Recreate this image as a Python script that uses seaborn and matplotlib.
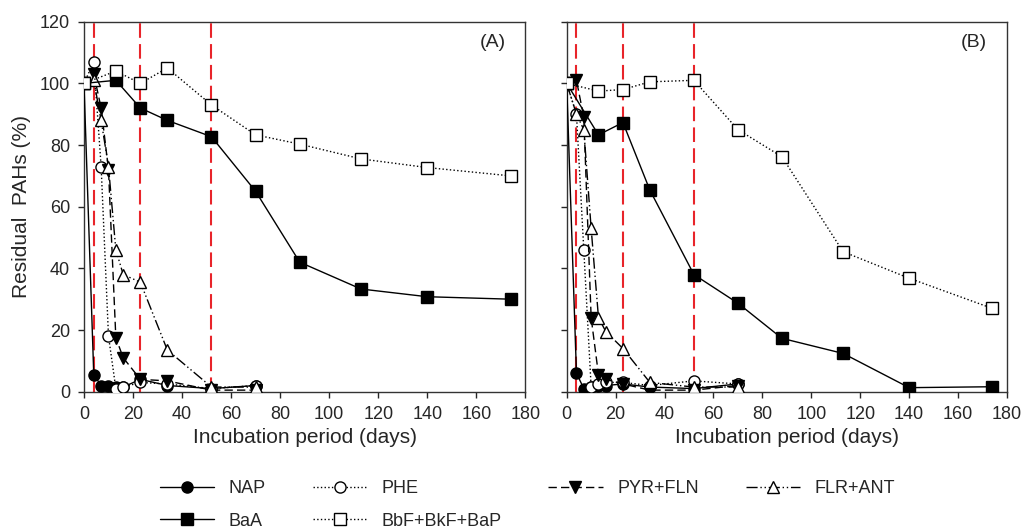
import numpy as np
import pandas as pd
import matplotlib
matplotlib.use("Agg")
import matplotlib.pyplot as plt
import seaborn as sns

# sampling days
days_short = [0, 4, 7, 10, 13, 16, 23, 34, 52, 70]
days_long = [0, 13, 23, 34, 52, 70, 88, 113, 140, 174]
red_days = [4, 23, 52]

# panel A
nap_a = [100, 5.5, 2, 2, 1.5, 1.5, 4, 2, 1, 2]
phe_a = [100, 107, 73, 18, 1, 1.5, 3, 2.5, 1, 2]
pyr_a = [100, 103, 92, 72, 17.5, 11, 4, 3.5, 0.5, 0.5]
flr_a = [100, 101, 88, 73, 46, 38, 35.5, 13.5, 1.5, 1.5]
baa_a = [100, 101, 92, 88, 82.7, 65, 42, 33.3, 30.8, 30]
bbf_a = [100, 104, 100, 105, 93, 83.3, 80.3, 75.5, 72.7, 70]

# panel B
nap_b = [100, 6, 1, 1.5, 2, 2, 2.5, 1.5, 1, 2.5]
phe_b = [100, 90, 46, 1.5, 2.5, 3, 3, 2, 3.5, 2.5]
pyr_b = [100, 101, 89, 24, 5.5, 4, 2.5, 0.5, 0.5, 2]
flr_b = [100, 90, 85, 53, 24, 19.5, 14, 3, 1.5, 1.5]
baa_b = [100, 83.3, 87.3, 65.4, 38, 28.7, 17.3, 12.4, 1.3, 1.6]
bbf_b = [100, 97.5, 98, 100.5, 101, 85, 76.2, 45.4, 36.8, 27]

sns.set_style("ticks")
plt.rcParams['font.family'] = ['Liberation Sans', 'DejaVu Sans']

# name, days, marker, linestyle, face colour, marker size
styles = [
    ("NAP", days_short, "o", "-", "black", 8),
    ("PHE", days_short, "o", ":", "white", 8),
    ("PYR+FLN", days_short, "v", (0, (6, 3)), "black", 9),
    ("FLR+ANT", days_short, "^", (0, (8, 2, 1, 2, 1, 2)), "white", 9),
    ("BaA", days_long, "s", "-", "black", 8),
    ("BbF+BkF+BaP", days_long, "s", ":", "white", 8),
]

fig = plt.figure(figsize=(10.24, 5.3), dpi=100)
ax_a = fig.add_axes([0.082, 0.261, 0.431, 0.698])
ax_b = fig.add_axes([0.5534, 0.261, 0.430, 0.698])

panels = [
    (ax_a, [nap_a, phe_a, pyr_a, flr_a, baa_a, bbf_a], "(A)"),
    (ax_b, [nap_b, phe_b, pyr_b, flr_b, baa_b, bbf_b], "(B)"),
]

for ax, series, tag in panels:
    for d in red_days:
        ax.axvline(d, color="#e8242a", lw=1.5, ls=(0, (7, 3)), zorder=1)
    for (name, days, mk, ls, fc, ms), vals in zip(styles, series):
        df = pd.DataFrame({"day": days, "val": vals})
        sns.lineplot(data=df, x="day", y="val", ax=ax, color="black",
                     lw=1.0, linestyle=ls, marker=mk, markersize=ms,
                     markerfacecolor=fc, markeredgecolor="black",
                     markeredgewidth=1.0, label=name, legend=False,
                     estimator=None, zorder=3)
    ax.set_xlim(0, 180)
    ax.set_ylim(0, 120)
    ax.set_xticks(np.arange(0, 181, 20))
    ax.set_yticks(np.arange(0, 121, 20))
    ax.tick_params(labelsize=13, direction="out", length=4, width=1, pad=6)
    ax.set_xlabel("Incubation period (days)", fontsize=15, labelpad=4)
    ax.set_ylabel("")
    for s in ax.spines.values():
        s.set_linewidth(1.0)
        s.set_color("#333333")
    ax.text(0.955, 0.945, tag, transform=ax.transAxes, ha="right",
            va="center", fontsize=14)

ax_a.set_ylabel("Residual  PAHs (%)", fontsize=15, labelpad=6)
ax_b.set_yticklabels([])

handles, labels = ax_a.get_legend_handles_labels()
order = [0, 4, 1, 5, 2, 3]
fig.legend([handles[i] for i in order], [labels[i] for i in order],
           loc="lower center", bbox_to_anchor=(0.515, -0.02), ncol=4,
           frameon=False, fontsize=13, handlelength=3.0,
           columnspacing=2.6, handletextpad=0.8, labelspacing=0.85,
           borderaxespad=0.2)

fig.savefig("out.png", dpi=100)
